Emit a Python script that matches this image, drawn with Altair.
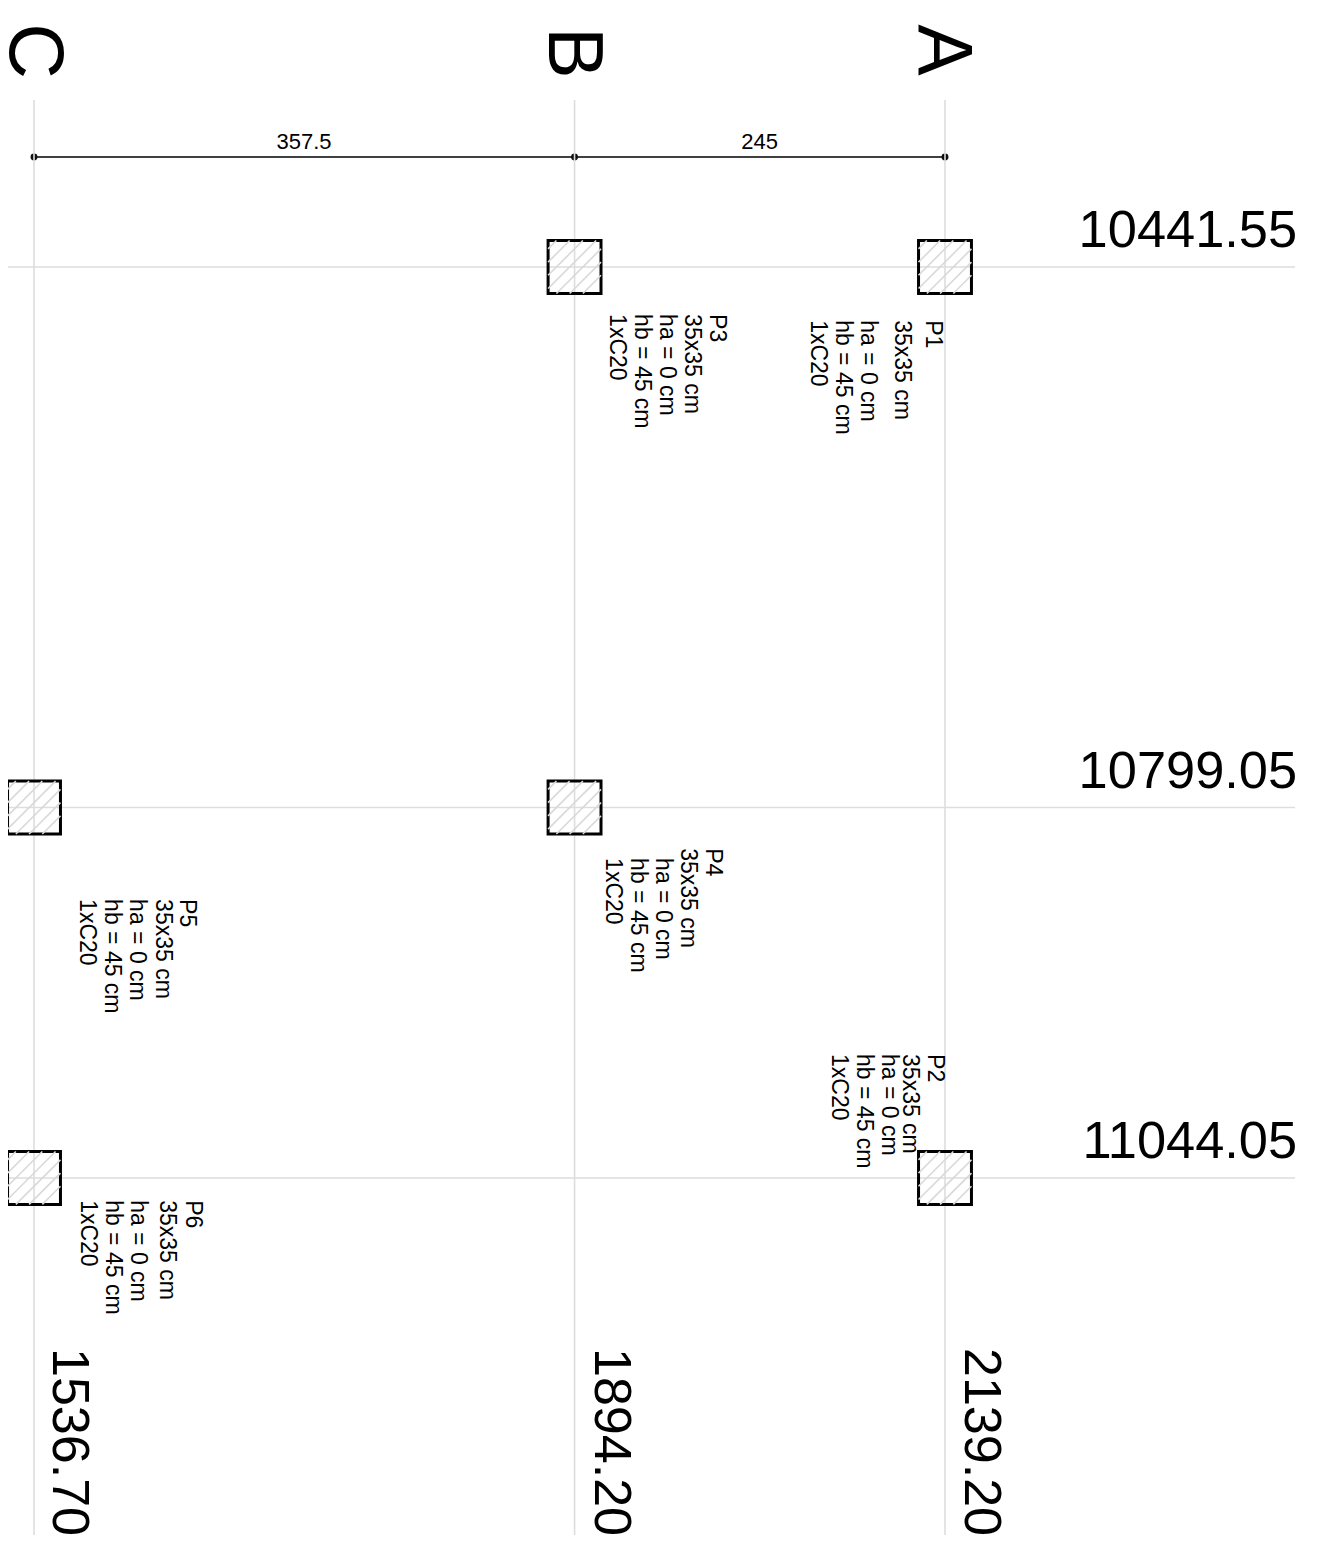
import altair as alt
import pandas as pd

# Grid axes (drawing units)
col_names = ["C", "B", "A"]
col_x = [1536.70, 1894.20, 2139.20]
row_y = [10441.55, 10799.05, 11044.05]
col_labels = ["1536.70", "1894.20", "2139.20"]
row_labels = ["10441.55", "10799.05", "11044.05"]

# Pillars
pillar_x = [2139.20, 2139.20, 1894.20, 1894.20, 1536.70, 1536.70]
pillar_y = [10441.55, 11044.05, 10441.55, 10799.05, 10799.05, 11044.05]
half_side = 17.5
hatch_c = [5.5, 14.25, 23.0, 31.75, 40.5, 49.25, 58.0]

# Pillar annotation lines
note_text = [
    "P1", "35x35 cm", "ha = 0 cm", "hb = 45 cm", "1xC20",
    "P2", "35x35 cm", "ha = 0 cm", "hb = 45 cm", "1xC20",
    "P3", "35x35 cm", "ha = 0 cm", "hb = 45 cm", "1xC20",
    "P4", "35x35 cm", "ha = 0 cm", "hb = 45 cm", "1xC20",
    "P5", "35x35 cm", "ha = 0 cm", "hb = 45 cm", "1xC20",
    "P6", "35x35 cm", "ha = 0 cm", "hb = 45 cm", "1xC20",
]
note_x = [
    2126.5, 2106.0, 2083.5, 2067.0, 2050.4,
    2127.8, 2111.3, 2097.4, 2080.9, 2064.3,
    1983.6, 1967.1, 1950.6, 1934.0, 1917.5,
    1981.0, 1964.4, 1947.9, 1931.4, 1914.8,
    1633.1, 1617.2, 1600.0, 1583.5, 1567.0,
    1637.1, 1619.9, 1600.7, 1584.2, 1567.6,
]
note_y = [
    10476.7, 10476.7, 10476.7, 10476.7, 10476.7,
    10962.1, 10962.1, 10962.1, 10962.1, 10962.1,
    10472.7, 10472.7, 10472.7, 10472.7, 10472.7,
    10825.9, 10825.9, 10832.5, 10832.5, 10832.5,
    10859.6, 10859.6, 10859.6, 10859.6, 10859.6,
    11058.7, 11058.7, 11058.7, 11058.7, 11058.7,
]

# Dimension chain
dim_text = ["357.5", "245"]
dim_text_x = [1715.3, 2016.6]
dim_text_y = 10363.5
dim_y = 10368.8

# Extents of lines and labels
grid_top = 10331.1
grid_bottom = 11280.2
grid_left = 1519.5
grid_right = 2370.7
letter_x = [1520.5, 1877.0, 2121.4]
letter_y = [10298.7, 10300.0, 10298.0]
bottom_label_x = [1549.3, 1907.7, 2152.5]
bottom_label_y = 11156.5
right_label_x = 2372.1
right_label_y = [10428.3, 10786.1, 11030.8]

FONT = "Liberation Sans"
GRID = "#dddddd"
xs = alt.Scale(domain=[1519.5, 2379.28], nice=False, zero=False)
ys = alt.Scale(domain=[10270.26, 11282.16], nice=False, zero=False, reverse=True)


def X(f="x"):
    return alt.X(f"{f}:Q", scale=xs, axis=None)


def Y(f="y"):
    return alt.Y(f"{f}:Q", scale=ys, axis=None)


vgrid = alt.Chart(pd.DataFrame({"x": col_x, "y": grid_top, "y2": grid_bottom})).mark_rule(
    color=GRID, strokeWidth=1.6
).encode(x=X(), y=Y(), y2="y2:Q")
hgrid = alt.Chart(pd.DataFrame({"y": row_y, "x": grid_left, "x2": grid_right})).mark_rule(
    color=GRID, strokeWidth=1.6
).encode(y=Y(), x=X(), x2="x2:Q")

squares = alt.Chart(pd.DataFrame({
    "x": [v - half_side for v in pillar_x],
    "x2": [v + half_side for v in pillar_x],
    "y": [v - half_side for v in pillar_y],
    "y2": [v + half_side for v in pillar_y],
})).mark_rect(filled=False, stroke="black", strokeWidth=3).encode(
    x=X(), x2="x2:Q", y=Y(), y2="y2:Q"
)

side = 2 * half_side
hatch_rows = []
for p, (cx, cy) in enumerate(zip(pillar_x, pillar_y)):
    left, top = cx - half_side, cy - half_side
    for c in hatch_c:
        if c <= side:
            ends = [(c, 0.0), (0.0, c)]
        else:
            ends = [(side, c - side), (c - side, side)]
        for i, (u, v) in enumerate(ends):
            hatch_rows.append({"id": f"{p}-{c}", "o": i, "x": left + u, "y": top + v})
hatch = alt.Chart(pd.DataFrame(hatch_rows)).mark_line(color="#d9d9d9", strokeWidth=1.6).encode(
    x=X(), y=Y(), detail="id:N", order="o:Q"
)

dim_line = alt.Chart(pd.DataFrame({"x": [col_x[0]], "x2": [col_x[-1]], "y": [dim_y]})).mark_rule(
    color="black", strokeWidth=1.6
).encode(x=X(), x2="x2:Q", y=Y())
dim_dots = alt.Chart(pd.DataFrame({"x": col_x, "y": dim_y})).mark_point(
    filled=True, color="#111111", size=48, opacity=1
).encode(x=X(), y=Y())
dim_labels = alt.Chart(pd.DataFrame({"x": dim_text_x, "y": dim_text_y, "t": dim_text})).mark_text(
    font=FONT, fontSize=22, align="center", baseline="alphabetic", color="black"
).encode(x=X(), y=Y(), text="t:N")

notes = alt.Chart(pd.DataFrame({"x": note_x, "y": note_y, "t": note_text})).mark_text(
    font=FONT, fontSize=23, angle=90, align="left", baseline="alphabetic", color="black"
).encode(x=X(), y=Y(), text="t:N")

letters = alt.Chart(pd.DataFrame({"x": letter_x, "y": letter_y, "t": col_names})).mark_text(
    font=FONT, fontSize=77, angle=90, align="center", baseline="alphabetic", color="black"
).encode(x=X(), y=Y(), text="t:N")

bottom_labels = alt.Chart(pd.DataFrame({"x": bottom_label_x, "y": bottom_label_y, "t": col_labels})).mark_text(
    font=FONT, fontSize=52, angle=90, align="left", baseline="alphabetic", color="black"
).encode(x=X(), y=Y(), text="t:N")

right_labels = alt.Chart(pd.DataFrame({"x": right_label_x, "y": right_label_y, "t": row_labels})).mark_text(
    font=FONT, fontSize=52.4, align="right", baseline="alphabetic", color="black"
).encode(x=X(), y=Y(), text="t:N")

chart = alt.layer(
    dim_line, dim_dots, vgrid, hgrid, squares, hatch,
    dim_labels, notes, letters, bottom_labels, right_labels,
).properties(
    width=1300, height=1530, padding=0, background="white",
    autosize=alt.AutoSizeParams(type="none"),
).configure_view(stroke=None)

chart.save("out.html", embed_options={"renderer": "svg", "actions": False})
